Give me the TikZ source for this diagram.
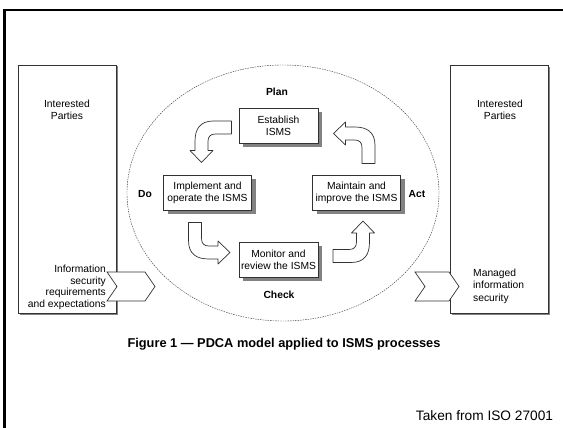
\documentclass[tikz,border=0pt]{standalone}
\usepackage{fontspec}
\setmainfont{Liberation Sans}
\usepackage{tikz}
\usetikzlibrary{shadows}
\definecolor{isoline}{RGB}{50,50,50}
\definecolor{isoshadow}{RGB}{130,130,130}

\begin{document}
\begin{tikzpicture}[x=1pt,y=-1pt,
	every node/.style={font=\fontsize{10.3}{12}\selectfont, inner sep=0pt},
	party/.style={draw=isoline, line width=0.8pt, fill=white, minimum width=98pt, minimum height=248pt,
		drop shadow={shadow xshift=1.5pt, shadow yshift=-1.5pt, fill=isoshadow, opacity=1}},
	procbox/.style={draw=isoline, line width=0.8pt, fill=white, minimum height=35pt, align=center,
		drop shadow={shadow xshift=4pt, shadow yshift=-4pt, fill=isoshadow, opacity=1}},
	phase/.style={font=\fontsize{10.3}{12}\selectfont\bfseries},
	cyclearrow/.pic={
		\draw[isoline, line width=0.7pt, fill=white, line join=round] (30,-6.5) -- (12,-6.5)
			.. controls (-2,-6.5) and (-6.5,2) .. (-6.5,14) -- (-6.5,23) -- (-11.5,23)
			-- (0,35) -- (11.5,23) -- (6.5,23) -- (6.5,14)
			.. controls (6.5,9) and (9,6.5) .. (14,6.5) -- (30,6.5) -- cycle;
	}]
	\useasboundingbox (0,0) rectangle (563,428);
	\draw[line width=2.5pt] (4.5,428) -- (4.5,10) -- (563,10);

	% interested parties on both sides
	\node[party] (leftparty) at (67,189) {};
	\node[party] (rightparty) at (499,189.5) {};
	\node[align=center] (lefttitle) at (67,110) {Interested\\Parties};
	\node[align=center] (righttitle) at (500,110) {Interested\\Parties};
	\node[align=right, anchor=east, font=\fontsize{10.3}{11.5}\selectfont] (needs) at (106,287.5)
		{Information\\security\\requirements\\and expectations};
	\node[align=left, anchor=west, font=\fontsize{10.3}{12.5}\selectfont] (managed) at (473,286)
		{Managed\\information\\security};
	\foreach \x/\w in {107/38,415/34}
		\draw[isoline, line width=0.7pt, fill=white] (\x,272) -- ++(\w,0) -- ++(10,14.5) -- ++(-10,14.5)
			-- ++(-\w,0) -- ++(10,-14.5) -- cycle;

	% the PDCA cycle
	\draw[isoline, thin, dash pattern=on 1.5pt off 1pt] (283,193) ellipse [x radius=156, y radius=128];
	\node[procbox, minimum width=79pt] (establish) at (278.5,125.5) {Establish\\ISMS};
	\node[procbox, minimum width=88pt] (implement) at (207.5,192.5) {Implement and\\operate the ISMS};
	\node[procbox, minimum width=88pt] (maintain) at (356.5,192.5) {Maintain and\\improve the ISMS};
	\node[procbox, minimum width=79pt] (monitor) at (278.5,259.5) {Monitor and\\review the ISMS};
	\node[phase] (plan) at (277,92) {Plan};
	\node[phase] (do) at (145,194) {Do};
	\node[phase] (act) at (417,194) {Act};
	\node[phase] (check) at (279,295) {Check};
	\foreach \px/\py/\ang in {201.5/127.5/0,368.5/133.5/270,195/252.5/90,363/256/180}
		\pic[rotate=\ang] at (\px,\py) {cyclearrow};

	\node[font=\fontsize{12.8}{15}\selectfont\bfseries] (caption) at (284,344)
		{Figure 1 \textemdash{} PDCA model applied to ISMS processes};
	\node[font=\fontsize{13.7}{16}\selectfont] (source) at (484.5,416) {Taken from ISO 27001};
\end{tikzpicture}
\end{document}
